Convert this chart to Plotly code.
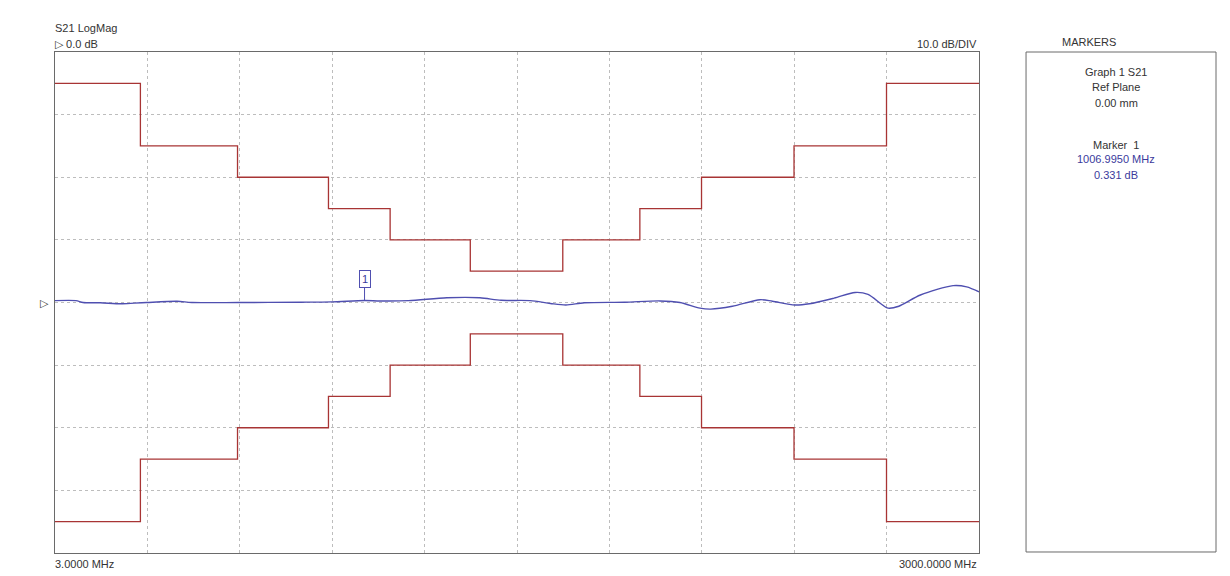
import plotly.graph_objects as go

# Sweep span (MHz) and display scale (dB)
f_start, f_stop = 3.0, 3000.0
ref_db, db_per_div, n_ydiv = 0.0, 10.0, 8

# Limit mask: step edges (MHz) and the level held on each step (dB)
limit_edges = [3, 280, 595, 890, 1090, 1350, 1650, 1900, 2100, 2400, 2700, 3000]
upper_limit = [35, 25, 20, 15, 10, 5, 10, 15, 20, 25, 35]
lower_limit = [-35, -25, -20, -15, -10, -5, -10, -15, -20, -25, -35]

# Measured S21 magnitude
s21_freq = [3, 71, 94, 150, 217, 260, 300, 399, 447, 600, 800, 900, 1007, 1057,
            1150, 1274, 1381, 1450, 1544, 1610, 1660, 1720, 1850, 1965, 2030,
            2095, 2130, 2200, 2290, 2330, 2403, 2450, 2530, 2598, 2640, 2705,
            2740, 2810, 2916, 2960, 3000]
s21_db = [0.3, 0.3, 0.0, -0.05, -0.2, -0.1, 0.0, 0.2, 0.0, 0.0, 0.05, 0.1, 0.331, 0.25,
          0.3, 0.75, 0.75, 0.35, 0.3, -0.15, -0.4, -0.05, 0.05, 0.25, 0.0,
          -0.9, -1.05, -0.6, 0.45, 0.2, -0.4, -0.2, 0.7, 1.6, 1.3, -0.9,
          -0.6, 1.2, 2.7, 2.5, 1.7]

# Marker readout
marker_freq = 1006.995
marker_db = 0.331

red = "#a83434"
blue = "#4f4fb0"
txt = "#333333"
blue_txt = "#3a3a9c"


def step_points(edges, levels):
    xs, ys = [], []
    for i, lv in enumerate(levels):
        xs += [edges[i], edges[i + 1]]
        ys += [lv, lv]
    return xs, ys


fig = go.Figure()
ux, uy = step_points(limit_edges, upper_limit)
lx, ly = step_points(limit_edges, lower_limit)
fig.add_trace(go.Scatter(x=ux, y=uy, mode="lines", line=dict(color=red, width=1.3)))
fig.add_trace(go.Scatter(x=lx, y=ly, mode="lines", line=dict(color=red, width=1.3)))
fig.add_trace(go.Scatter(x=s21_freq, y=s21_db, mode="lines",
                         line=dict(color=blue, width=1.4, shape="spline", smoothing=0.8)))

top = ref_db + db_per_div * n_ydiv / 2
bot = ref_db - db_per_div * n_ydiv / 2

fig.update_layout(
    width=1230, height=576,
    margin=dict(l=55, r=251, t=52, b=23),
    paper_bgcolor="white", plot_bgcolor="white",
    showlegend=False,
    font=dict(family="Liberation Sans, Arial, sans-serif", size=11, color=txt),
    xaxis=dict(range=[f_start, f_stop], tick0=f_start, dtick=(f_stop - f_start) / 10,
               showticklabels=False, ticks="", showgrid=True, gridcolor="#bdbdbd",
               griddash="dot", gridwidth=1, zeroline=False, showline=True,
               mirror=True, linecolor="#6a6a6a", linewidth=1),
    yaxis=dict(range=[bot, top], tick0=0, dtick=db_per_div,
               showticklabels=False, ticks="", showgrid=True, gridcolor="#bdbdbd",
               griddash="dot", gridwidth=1, zeroline=False, showline=True,
               mirror=True, linecolor="#6a6a6a", linewidth=1),
)


def paper_text(x, y, s, xanchor="left", color=txt, size=11):
    fig.add_annotation(x=x, y=y, xref="paper", yref="paper", text=s, showarrow=False,
                       xanchor=xanchor, yanchor="middle",
                       font=dict(size=size, color=color))


# Header and footer labels of the graph
paper_text(-0.002, 1.048, "S21 LogMag")
paper_text(-0.002, 1.016, "\u25B7 0.0 dB")
paper_text(1.0, 1.016, "10.0 dB/DIV", xanchor="right")
paper_text(-0.002, -0.022, "3.0000 MHz")
paper_text(1.0, -0.022, "3000.0000 MHz", xanchor="right")

# Reference position pointer on the left edge
fig.add_annotation(x=-0.011, y=ref_db, xref="paper", yref="y", text="\u25B7",
                   showarrow=False, xanchor="center", yanchor="middle",
                   font=dict(size=11, color=txt))

# Marker 1 flag
fig.add_annotation(x=marker_freq, y=marker_db, xref="x", yref="y", text="1",
                   showarrow=True, arrowhead=0, arrowwidth=1, arrowcolor=blue,
                   ax=0, ay=-21, bordercolor=blue, borderwidth=1, borderpad=2,
                   bgcolor="white", font=dict(size=11, color=blue_txt))

# Marker readout panel
fig.add_shape(type="rect", xref="paper", yref="paper", x0=1.0509, x1=1.2565,
              y0=0.002, y1=1.0, line=dict(color="#6a6a6a", width=1))
paper_text(1.119, 1.020, "MARKERS", xanchor="center")
cx = 1.1483
paper_text(cx, 0.960, "Graph 1 S21", xanchor="center")
paper_text(cx, 0.930, "Ref Plane", xanchor="center")
paper_text(cx, 0.898, "0.00 mm", xanchor="center")
paper_text(cx, 0.814, "Marker  1", xanchor="center")
paper_text(cx, 0.786, f"{marker_freq:.4f} MHz", xanchor="center", color=blue_txt)
paper_text(cx, 0.7545, f"{marker_db:.3f} dB", xanchor="center", color=blue_txt)

fig.write_html("out.html")
